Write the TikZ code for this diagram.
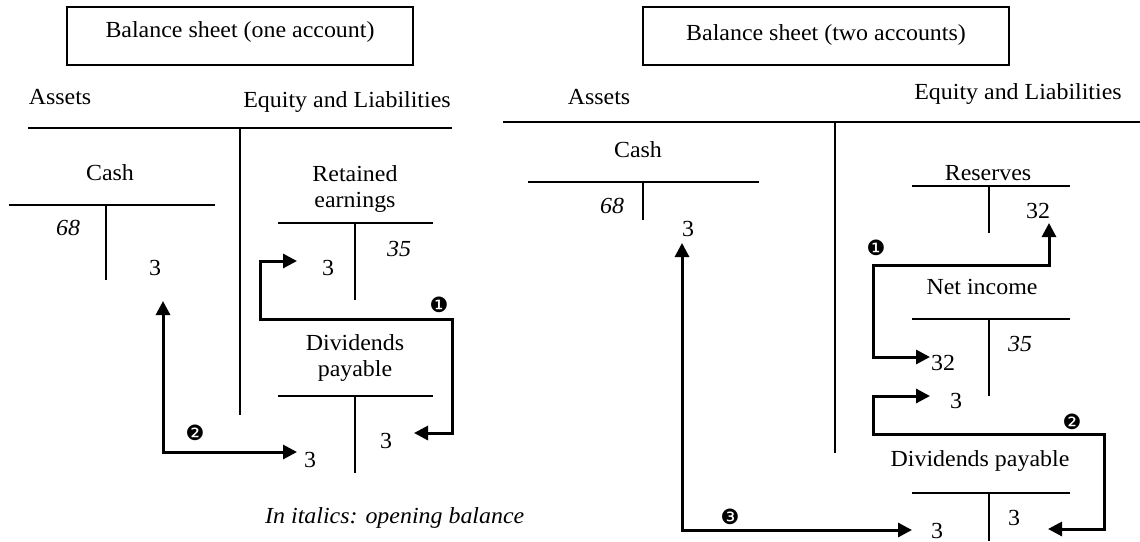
\documentclass[tikz,border=0pt]{standalone}
\usepackage{fontspec}
\setmainfont{Liberation Serif}[FakeStretch=1.04]
\newfontfamily\badgefont{DejaVu Sans}
\usetikzlibrary{arrows.meta}

\tikzset{
  x=1pt, y=-1pt,
  lbl/.style={inner sep=0pt, anchor=base, font=\fontsize{23}{26.5}\selectfont},
  open/.style={lbl, font=\fontsize{23}{26.5}\selectfont\itshape},
  stack/.style={lbl, anchor=north, align=center},
  titlebox/.style={draw, line width=1.2pt, inner sep=0pt, minimum height=58pt,
                   font=\fontsize{23}{26}\selectfont},
  rule/.style={line width=1.2pt},
  flow/.style={line width=3pt,
    {Triangle[length=14pt,width=14pt]}-{Triangle[length=14pt,width=14pt]}},
  badge/.style={inner sep=0pt, font=\badgefont\fontsize{21}{21}\selectfont}
}

\begin{document}
\begin{tikzpicture}
\useasboundingbox (0,0) rectangle (1140,541);
\fill[white] (0,0) rectangle (1140,541);

% ---------------- one account ----------------
\node[titlebox, minimum width=346pt, text height=11pt, text depth=9pt] (t1) at (240,36) {Balance sheet (one account)};
\node[lbl] (asL) at (60,104) {Assets};
\node[lbl] (elL) at (347,107) {Equity and Liabilities};
\draw[rule] (28,128) -- (452,128);
\draw[rule] (240,128) -- (240,415);

% Cash
\node[lbl] (cashL) at (110,180) {Cash};
\draw[rule] (9,205) -- (215,205);
\draw[rule] (106,205) -- (106,280);
\node[open] (cashLo) at (68,235) {68};
\node[lbl] (cashLc) at (155,275) {3};

% Retained earnings
\node[stack] (reL) at (355,165) {Retained\\earnings};
\draw[rule] (278,223) -- (433,223);
\draw[rule] (355,223) -- (355,300);
\node[open] (reLo) at (399,256) {35};
\node[lbl] (reLd) at (328,275) {3};

% Dividends payable
\node[stack] (dpL) at (355,334) {Dividends\\payable};
\draw[rule] (278,396) -- (433,396);
\draw[rule] (355,396) -- (355,473);
\node[lbl] (dpLc) at (386,448) {3};
\node[lbl] (dpLd) at (310,467) {3};

\node[open, anchor=base west] (note) at (265,523) {In italics: opening balance};

% postings
\coordinate (L1a) at (297,261);
\coordinate (L1b) at (260,261);
\coordinate (L1c) at (260,319);
\coordinate (L1d) at (452,319);
\coordinate (L1e) at (452,433);
\coordinate (L1f) at (414,433);
\draw[flow] (L1a) -- (L1b) -- (L1c) -- (L1d) -- (L1e) -- (L1f);
\node[badge] (n1L) at (439,305) {❶};

\coordinate (L2a) at (163,301);
\coordinate (L2b) at (163,452);
\coordinate (L2c) at (297,452);
\draw[flow] (L2a) -- (L2b) -- (L2c);
\node[badge] (n2L) at (195,433) {❷};

% ---------------- two accounts ----------------
\node[titlebox, minimum width=366pt, text height=13pt, text depth=5pt] (t2) at (826,36) {Balance sheet (two accounts)};
\node[lbl] (asR) at (599,104) {Assets};
\node[lbl] (elR) at (1018,99) {Equity and Liabilities};
\draw[rule] (503,122) -- (1140,122);
\draw[rule] (835,122) -- (835,453);

% Cash
\node[lbl] (cashR) at (638,157) {Cash};
\draw[rule] (528,182) -- (759,182);
\draw[rule] (643,182) -- (643,220);
\node[open] (cashRo) at (612,213) {68};
\node[lbl] (cashRc) at (688,236) {3};

% Reserves
\node[lbl] (resR) at (988,180) {Reserves};
\draw[rule] (912,186) -- (1070,186);
\draw[rule] (989,186) -- (989,233);
\node[lbl] (resRc) at (1038,218) {32};

% Net income
\node[lbl] (niR) at (982,294) {Net income};
\draw[rule] (912,319) -- (1070,319);
\draw[rule] (989,319) -- (989,396);
\node[open] (niRo) at (1020,351) {35};
\node[lbl] (niRd1) at (943,370) {32};
\node[lbl] (niRd2) at (956,408) {3};

% Dividends payable
\node[lbl] (dpR) at (980,466) {Dividends payable};
\draw[rule] (912,493) -- (1070,493);
\draw[rule] (989,493) -- (989,541);
\node[lbl] (dpRc) at (1014,525) {3};
\node[lbl] (dpRd) at (937,538) {3};

% postings
\coordinate (R1a) at (1049,223);
\coordinate (R1b) at (1049,265);
\coordinate (R1c) at (873,265);
\coordinate (R1d) at (873,357);
\coordinate (R1e) at (930,357);
\draw[flow] (R1a) -- (R1b) -- (R1c) -- (R1d) -- (R1e);
\node[badge] (n1R) at (876,248) {❶};

\coordinate (R2a) at (930,396);
\coordinate (R2b) at (873,396);
\coordinate (R2c) at (873,434);
\coordinate (R2d) at (1104,434);
\coordinate (R2e) at (1104,529);
\coordinate (R2f) at (1048,529);
\draw[flow] (R2a) -- (R2b) -- (R2c) -- (R2d) -- (R2e) -- (R2f);
\node[badge] (n2R) at (1072,422) {❷};

\coordinate (R3a) at (682,243);
\coordinate (R3b) at (682,530);
\coordinate (R3c) at (912,530);
\draw[flow] (R3a) -- (R3b) -- (R3c);
\node[badge] (n3R) at (730,517) {❸};
\end{tikzpicture}
\end{document}
